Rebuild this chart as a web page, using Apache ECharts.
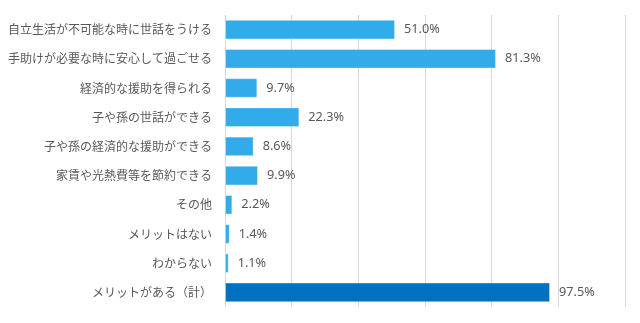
<!DOCTYPE html>
<html><head><meta charset="utf-8">
<script src="https://cdn.jsdelivr.net/npm/echarts@6/dist/echarts.min.js"></script>
<style>html,body{margin:0;padding:0;background:#fff}#c{width:640px;height:323px}</style>
</head><body><div id="c"></div>
<script>
const categories = ["自立生活が不可能な時に世話をうける","手助けが必要な時に安心して過ごせる","経済的な援助を得られる","子や孫の世話ができる","子や孫の経済的な援助ができる","家賃や光熱費等を節約できる","その他","メリットはない","わからない","メリットがある（計）"];
const values = [51.0, 81.3, 9.7, 22.3, 8.6, 9.9, 2.2, 1.4, 1.1, 97.5];
const barColors = ["#31ABE9","#31ABE9","#31ABE9","#31ABE9","#31ABE9","#31ABE9","#31ABE9","#31ABE9","#31ABE9","#0070C0"];
const chart = echarts.init(document.getElementById('c'));
chart.setOption({
  animation:false,
  grid:{left:225,right:15,top:15,bottom:16,containLabel:false},
  xAxis:{type:'value',min:0,max:120,interval:20,
    axisLabel:{show:false},axisLine:{show:false},axisTick:{show:false},
    splitLine:{show:true,lineStyle:{color:'#d9d9d9',width:1}}},
  yAxis:{type:'category',data:categories,inverse:true,
    axisLine:{show:false},axisTick:{show:false},
    axisLabel:{color:'#595959',fontSize:12,margin:13,fontFamily:'"Noto Sans CJK JP", sans-serif'}},
  series:[{type:'bar',data:values.map((v,i)=>({value:v,itemStyle:{color:barColors[i]}})),
    barCategoryGap:'33%',
    itemStyle:{borderColor:'rgba(255,255,255,0.35)',borderWidth:1},
    label:{show:true,position:'right',distance:9,color:'#595959',fontSize:12.7,
      fontFamily:'"Noto Sans", sans-serif',formatter:p=>p.value.toFixed(1)+'%'}}]
});
</script></body></html>
